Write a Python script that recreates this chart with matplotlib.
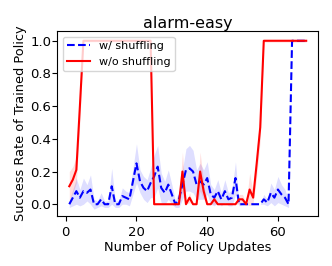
import numpy as np
import matplotlib
matplotlib.use("Agg")
import matplotlib.pyplot as plt

# policy update index
updates = np.arange(1, 69)

# w/ shuffling (mean success rate and spread)
shuf_mean = [0.00, 0.04, 0.08, 0.04, 0.08, 0.07, 0.09, 0.00, 0.00, 0.03,
             0.00, 0.00, 0.11, 0.00, 0.00, 0.05, 0.04, 0.03, 0.14, 0.25,
             0.14, 0.10, 0.08, 0.13, 0.17, 0.23, 0.10, 0.07, 0.12, 0.06,
             0.00, 0.03, 0.12, 0.21, 0.22, 0.20, 0.12, 0.14, 0.12, 0.16,
             0.06, 0.04, 0.08, 0.03, 0.08, 0.03, 0.04, 0.16, 0.00, 0.00,
             0.00, 0.00, 0.00, 0.00, 0.00, 0.03, 0.01, 0.07, 0.04, 0.09,
             0.06, 0.04, 0.00, 1.00, 1.00, 1.00, 1.00, 1.00]
shuf_sd = [0.02, 0.05, 0.08, 0.05, 0.08, 0.05, 0.09, 0.03, 0.02, 0.04,
           0.02, 0.02, 0.11, 0.02, 0.02, 0.05, 0.04, 0.04, 0.08, 0.12,
           0.07, 0.07, 0.07, 0.09, 0.13, 0.13, 0.09, 0.07, 0.09, 0.06,
           0.02, 0.05, 0.09, 0.13, 0.14, 0.13, 0.09, 0.11, 0.09, 0.10,
           0.06, 0.05, 0.07, 0.04, 0.07, 0.04, 0.05, 0.10, 0.01, 0.00,
           0.00, 0.00, 0.00, 0.00, 0.00, 0.03, 0.02, 0.06, 0.05, 0.08,
           0.06, 0.05, 0.02, 0.005, 0.005, 0.005, 0.005, 0.005]

# w/o shuffling
noshuf_mean = [0.11, 0.15, 0.21, 0.60, 1.00, 1.00, 1.00, 1.00, 1.00, 1.00,
               1.00, 1.00, 1.00, 1.00, 1.00, 1.00, 1.00, 1.00, 1.00, 1.00,
               1.00, 1.00, 1.00, 1.00, 0.00, 0.00, 0.00, 0.00, 0.00, 0.00,
               0.00, 0.00, 0.20, 0.00, 0.04, 0.00, 0.00, 0.20, 0.08, 0.00,
               0.00, 0.03, 0.00, 0.00, 0.00, 0.00, 0.00, 0.00, 0.03, 0.03,
               0.00, 0.09, 0.04, 0.25, 0.47, 1.00, 1.00, 1.00, 1.00, 1.00,
               1.00, 1.00, 1.00, 1.00, 1.00, 1.00, 1.00, 1.00]
noshuf_sd = [0.09, 0.08, 0.08, 0.10, 0.008, 0.008, 0.008, 0.008, 0.008, 0.008,
             0.008, 0.008, 0.008, 0.008, 0.008, 0.008, 0.008, 0.008, 0.008, 0.008,
             0.008, 0.008, 0.008, 0.008, 0.00, 0.00, 0.00, 0.00, 0.00, 0.00,
             0.00, 0.00, 0.12, 0.00, 0.03, 0.00, 0.00, 0.12, 0.05, 0.00,
             0.00, 0.03, 0.00, 0.00, 0.00, 0.00, 0.00, 0.00, 0.03, 0.03,
             0.00, 0.10, 0.03, 0.08, 0.08, 0.008, 0.008, 0.008, 0.008, 0.008,
             0.008, 0.008, 0.008, 0.008, 0.008, 0.008, 0.008, 0.008]

shuf_mean = np.array(shuf_mean)
shuf_sd = np.array(shuf_sd)
noshuf_mean = np.array(noshuf_mean)
noshuf_sd = np.array(noshuf_sd)

fig = plt.figure(figsize=(3.32, 2.66), dpi=100)
ax = fig.add_axes([0.173, 0.188, 0.785, 0.695])

ax.plot(updates, shuf_mean, "b--", lw=1.5, label="w/ shuffling")
ax.fill_between(updates, shuf_mean - shuf_sd, shuf_mean + shuf_sd, color="b", alpha=0.13, lw=0)
ax.plot(updates, noshuf_mean, "r-", lw=1.5, label="w/o shuffling")
ax.fill_between(updates, noshuf_mean - noshuf_sd, noshuf_mean + noshuf_sd, color="r", alpha=0.13, lw=0)

ax.set_ylim(-0.072, 1.059)
ax.set_xticks([0, 20, 40, 60])
ax.tick_params(labelsize=9.5)
ax.tick_params(axis="y", pad=0.8)
ax.set_title("alarm-easy", fontsize=11.5, pad=1.5)
ax.set_xlabel("Number of Policy Updates", fontsize=9.3, labelpad=1.5)
ax.set_ylabel("Success Rate of Trained Policy", fontsize=9.3, labelpad=2.5)
ax.legend(loc="upper left", fontsize=8)

fig.savefig("out.png", dpi=100)
